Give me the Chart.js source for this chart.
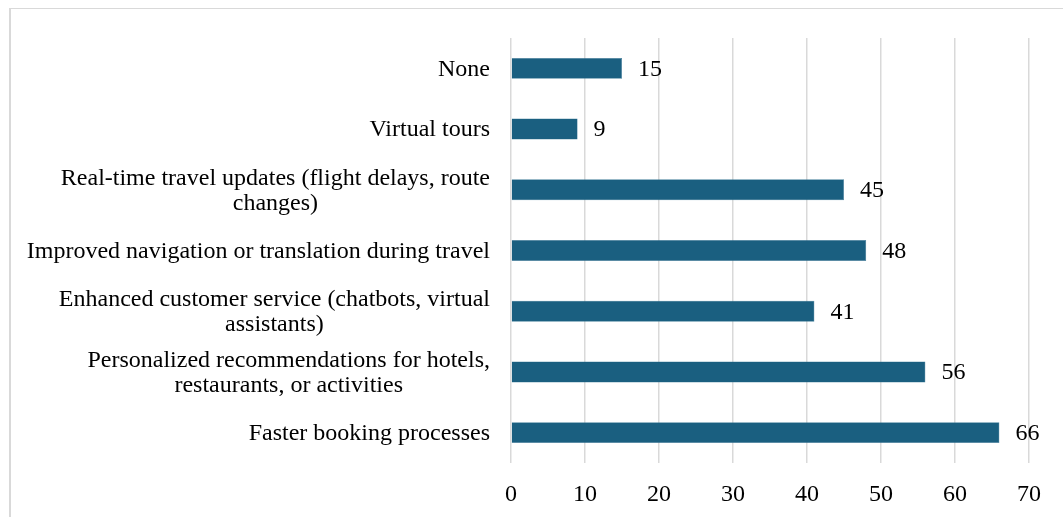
<!DOCTYPE html>
<html>
<head>
<meta charset="utf-8">
<script src="https://cdn.jsdelivr.net/npm/chart.js@4/dist/chart.umd.min.js"></script>
<style>
  html, body { margin: 0; padding: 0; background: #ffffff; }
  #wrap { position: relative; width: 1063px; height: 517px; overflow: hidden; }
  #frame { position: absolute; left: 9px; top: 8px; width: 1100px; height: 600px;
           border-left: 2px solid #d9d9d9; border-top: 1.5px solid #d9d9d9; box-sizing: border-box; }
  canvas { position: absolute; left: 0; top: 0; }
</style>
</head>
<body>
<div id="wrap">
  <div id="frame"></div>
  <canvas id="c" width="1063" height="517"></canvas>
</div>
<script>
// Survey answers: which AI benefits travellers expect
const categories = [
  ["None"],
  ["Virtual tours"],
  ["Real-time travel updates (flight delays, route", "changes)"],
  ["Improved navigation or translation during travel"],
  ["Enhanced customer service (chatbots, virtual", "assistants)"],
  ["Personalized recommendations for hotels,", "restaurants, or activities"],
  ["Faster booking processes"]
];
const responses = [15, 9, 45, 48, 41, 56, 66];
const xTicks = [0, 10, 20, 30, 40, 50, 60, 70];

const FONT = "'Liberation Serif', 'Times New Roman', serif";
const BAR = '#1a5f80';
const LABEL_SIZE = 24;
const LABEL_LINE = 25;
const NUM_SIZE = 24;

// Writes each bar's value just past its end
const valueLabels = {
  id: 'valueLabels',
  afterDatasetsDraw(chart) {
    const ctx = chart.ctx;
    const meta = chart.getDatasetMeta(0);
    ctx.save();
    ctx.font = NUM_SIZE + 'px ' + FONT;
    ctx.fillStyle = '#000000';
    ctx.textAlign = 'left';
    ctx.textBaseline = 'middle';
    meta.data.forEach((bar, i) => {
      ctx.fillText(String(responses[i]), bar.x + 16, bar.y + 1);
    });
    ctx.restore();
  }
};

// Category names: each block sits right-aligned against the axis,
// with wrapped lines centred on one another
const categoryLabels = {
  id: 'categoryLabels',
  afterDraw(chart) {
    const ctx = chart.ctx;
    const yScale = chart.scales.y;
    const right = yScale.right - 21;
    ctx.save();
    ctx.font = LABEL_SIZE + 'px ' + FONT;
    ctx.fillStyle = '#000000';
    ctx.textAlign = 'center';
    ctx.textBaseline = 'middle';
    categories.forEach((lines, i) => {
      const y = yScale.getPixelForTick(i);
      const w = Math.max(...lines.map(l => ctx.measureText(l).width));
      const cx = right - w / 2;
      const top = y - (lines.length - 1) * LABEL_LINE / 2;
      lines.forEach((l, k) => ctx.fillText(l, cx, top + k * LABEL_LINE + 1));
    });
    ctx.restore();
  }
};

new Chart(document.getElementById('c'), {
  type: 'bar',
  data: {
    labels: categories,
    datasets: [{
      data: responses,
      backgroundColor: BAR,
      borderColor: '#3f7b98',
      borderWidth: 0.5,
      barPercentage: 0.345,
      categoryPercentage: 1.0
    }]
  },
  options: {
    indexAxis: 'y',
    responsive: false,
    animation: false,
    devicePixelRatio: 1,
    layout: { padding: { top: 38, right: 34, bottom: 0, left: 0 } },
    plugins: { legend: { display: false }, tooltip: { enabled: false } },
    scales: {
      x: {
        min: 0, max: 70,
        afterBuildTicks(scale) { scale.ticks = xTicks.map(v => ({ value: v })); },
        afterFit(scale) { scale.height = 54; },
        grid: { color: '#d9d9d9', lineWidth: 1.5, drawTicks: false },
        border: { display: false },
        ticks: { color: '#000000', font: { family: FONT, size: NUM_SIZE }, padding: 17, maxRotation: 0 }
      },
      y: {
        afterFit(scale) { scale.width = 511; },
        grid: { display: false, drawTicks: false },
        border: { display: false },
        ticks: { display: false }
      }
    }
  },
  plugins: [valueLabels, categoryLabels]
});
</script>
</body>
</html>
